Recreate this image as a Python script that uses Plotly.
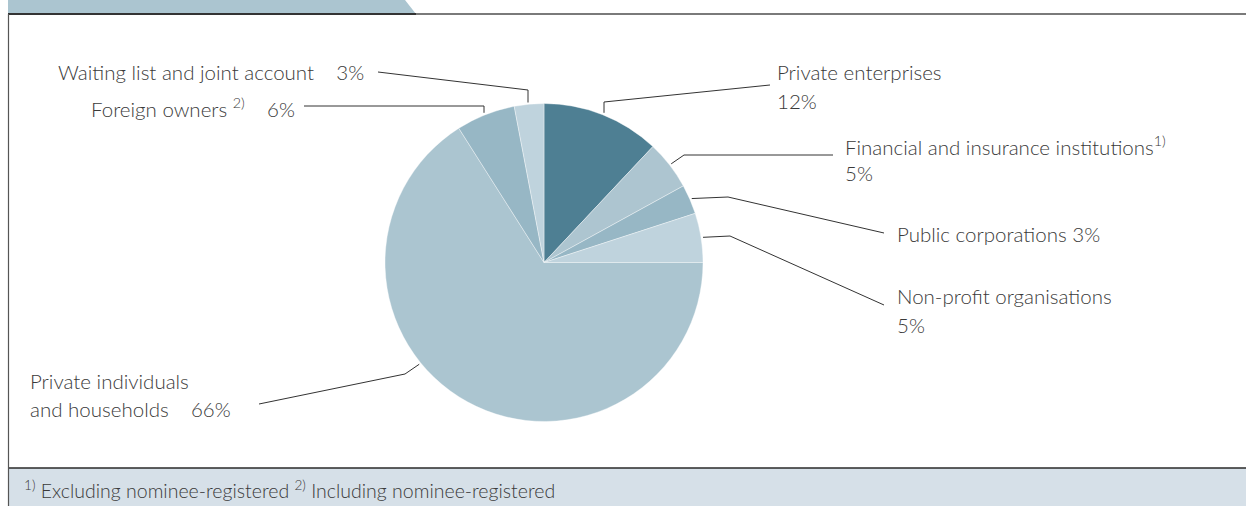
import math
import plotly.graph_objects as go

# Ownership shares (%)
categories = [
    "Private enterprises",
    "Financial and insurance institutions",
    "Public corporations",
    "Non-profit organisations",
    "Private individuals and households",
    "Foreign owners",
    "Waiting list and joint account",
]
shares = [12, 5, 3, 5, 66, 6, 3]
slice_colors = ["#4e7f93", "#adc5d0", "#97b7c5", "#bfd3dd", "#abc5d0", "#97b7c5", "#bfd3dd"]

W, H = 1246, 506
PIE_CX, PIE_CY, PIE_R = 544, 262.5, 159
TEXT_COLOR = "#3a3a3a"
LINE_COLOR = "#333333"
FONT = "Lato"


def px(x):
    return x / W


def py(y):
    return 1 - y / H


fig = go.Figure()
fig.add_trace(go.Pie(
    labels=categories,
    values=shares,
    sort=False,
    direction="clockwise",
    rotation=0,
    marker=dict(colors=slice_colors, line=dict(color="rgba(255,255,255,0.55)", width=0.7)),
    textinfo="none",
    hoverinfo="label+percent",
    showlegend=False,
    domain=dict(x=[px(PIE_CX - PIE_R), px(PIE_CX + PIE_R)],
                y=[py(PIE_CY + PIE_R), py(PIE_CY - PIE_R)]),
))

# Mid-angle of every slice (degrees clockwise from 12 o'clock)
total = sum(shares)
mid_angles = []
acc = 0
for v in shares:
    mid_angles.append((acc + v / 2) / total * 360)
    acc += v


def rim_point(angle_deg, r):
    a = math.radians(angle_deg)
    return PIE_CX + r * math.sin(a), PIE_CY - r * math.cos(a)


# Leader-line routing: (angle offset from slice middle, bend points after the rim point)
leaders = [
    (0, [(604, 102), (770, 85)]),
    (0, [(684, 155), (833, 155)]),
    (0, [(728, 197), (884, 233)]),
    (0, [(730, 236), (884, 305)]),
    (22, [(405, 374), (259, 404)]),
    (0, [(484, 106), (304, 106)]),
    (-1, [(528, 90), (378, 72)]),
]

shapes = []
for i, (offset, pts) in enumerate(leaders):
    x0, y0 = rim_point(mid_angles[i] + offset, PIE_R + 2)
    if i in (0, 5, 6):
        x0 = pts[0][0]
    path = f"M {px(x0)} {py(y0)}"
    for (x, y) in pts:
        path += f" L {px(x)} {py(y)}"
    shapes.append(dict(type="path", xref="paper", yref="paper", path=path,
                       line=dict(color=LINE_COLOR, width=1)))

# Frame: header tab, rules and footer band
shapes += [
    dict(type="path", xref="paper", yref="paper", layer="below",
         path=f"M {px(8)} {py(0)} L {px(405)} {py(0)} L {px(416)} {py(14)} L {px(8)} {py(14)} Z",
         fillcolor="#abc5d0", line=dict(width=0)),
    dict(type="line", xref="paper", yref="paper", x0=px(8), x1=px(416), y0=py(14), y1=py(14),
         line=dict(color="#333333", width=2)),
    dict(type="line", xref="paper", yref="paper", x0=px(416), x1=1, y0=py(14), y1=py(14),
         line=dict(color="#7a7a7a", width=2)),
    dict(type="rect", xref="paper", yref="paper", x0=px(8), x1=1, y0=0, y1=py(468), layer="below",
         fillcolor="#d6e0e8", line=dict(width=0)),
    dict(type="line", xref="paper", yref="paper", x0=px(8), x1=1, y0=py(468), y1=py(468),
         line=dict(color="#2a2a2a", width=1.6)),
    dict(type="line", xref="paper", yref="paper", x0=px(8.5), x1=px(8.5), y0=0, y1=py(14),
         line=dict(color="#555555", width=1.2)),
]

label_font = dict(family=FONT, size=20.5, color=TEXT_COLOR, weight=300)
texts = [
    ("Private enterprises", 775, 72, "left"),
    ("12%", 775, 101, "left"),
    ("Financial and insurance institutions<sup>1)</sup>", 843, 145, "left"),
    ("5%", 843, 173, "left"),
    ("Public corporations 3%", 895, 234, "left"),
    ("Non-profit organisations", 895, 296, "left"),
    ("5%", 895, 325, "left"),
    ("Private individuals", 28, 381, "left"),
    ("and households    66%", 28, 409, "left"),
    ("Foreign owners <sup>2)</sup>    6%", 297, 107, "right"),
    ("Waiting list and joint account    3%", 366, 72, "right"),
]
annotations = [
    dict(text=t, x=px(x), y=py(y), xref="paper", yref="paper", xanchor=a, yanchor="middle",
         showarrow=False, font=label_font)
    for (t, x, y, a) in texts
]
annotations.append(dict(
    text="<sup>1)</sup> Excluding nominee-registered <sup>2)</sup> Including nominee-registered",
    x=px(22), y=py(489), xref="paper", yref="paper", xanchor="left", yanchor="middle",
    showarrow=False, font=dict(family=FONT, size=19.5, color=TEXT_COLOR, weight=300)))

fig.update_layout(
    width=W, height=H,
    margin=dict(l=0, r=0, t=0, b=0),
    paper_bgcolor="white", plot_bgcolor="white",
    shapes=shapes, annotations=annotations,
)

fig.write_html("out.html")
